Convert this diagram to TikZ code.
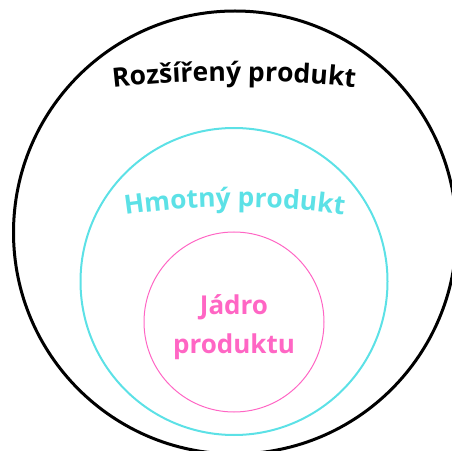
\documentclass[tikz,border=0pt]{standalone}
\usepackage{fontspec}
\setmainfont{Open Sans}
\usetikzlibrary{decorations.text}
\definecolor{ringcyan}{HTML}{5CE1E6}
\definecolor{ringpink}{HTML}{FF66C4}
\begin{document}
\begin{tikzpicture}[x=1pt,y=1pt]
\useasboundingbox (0,0) rectangle (452,450);
\clip (0,0) rectangle (452,450);
% rings
\draw[line width=3pt] (235,217.5) circle[radius=221.5];
\draw[ringcyan, line width=2pt] (234,168.5) circle[radius=153.5];
\draw[ringpink, line width=1pt] (234,128) circle[radius=90];
% curved labels
\path[shift={(234,-731)}, decorate, decoration={text along path, text align=center,
  text={|\fontsize{26.5}{30}\selectfont\bfseries|Rozšířený produkt}}]
  (102:1100) arc[start angle=102, end angle=78, radius=1100];
\path[shift={(234.5,-507)}, decorate, decoration={text along path, text align=center,
  text color=ringcyan, text={|\fontsize{26.3}{30}\selectfont\bfseries|Hmotný produkt}}]
  (103:750) arc[start angle=103, end angle=77, radius=750];
% core label
\node[ringpink, font=\fontsize{26}{39}\selectfont\bfseries, align=center] (core) at (234,123) {Jádro\\produktu};
\end{tikzpicture}
\end{document}
